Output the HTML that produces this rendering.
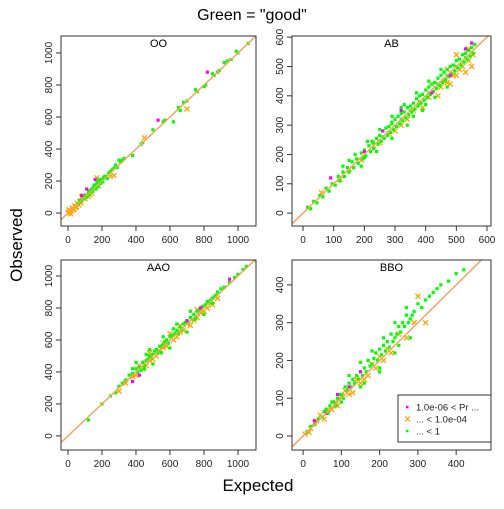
<!DOCTYPE html>
<html><head><meta charset="utf-8"><style>
body{margin:0;background:#fff;font-family:"Liberation Sans",sans-serif}
svg text{font-family:"Liberation Sans",sans-serif}
</style></head><body>
<svg id="c" width="504" height="504" xmlns="http://www.w3.org/2000/svg">
<text x="252" y="20" font-size="16" text-anchor="middle">Green = "good"</text>
<text x="258" y="491" font-size="17" text-anchor="middle">Expected</text>
<text x="22" y="245" font-size="17" text-anchor="middle" transform="rotate(-90 22 245)">Observed</text>
</svg>
<script>
const panelNames=["OO","AB","AAO","BBO"];
const xTicks=[[0,200,400,600,800,1000],[0,100,200,300,400,500,600],[0,200,400,600,800,1000],[0,100,200,300,400]];
const yTicks=[[0,200,400,600,800,1000],[0,100,200,300,400,500,600],[0,200,400,600,800,1000],[0,100,200,300,400]];
const ooGreen=[[60,60],[70,80],[80,75],[90,90],[100,110],[110,100],[120,130],[125,115],[130,140],[140,150],[145,135],[150,160],[155,175],[160,170],[165,150],[170,190],[175,165],[180,200],[185,210],[190,185],[195,200],[200,210],[205,195],[210,225],[220,230],[230,215],[240,250],[250,260],[260,270],[270,280],[280,300],[290,285],[300,330],[310,320],[320,330],[330,340],[380,360],[430,430],[440,440],[500,520],[560,570],[570,580],[620,570],[650,660],[660,640],[680,690],[700,700],[750,770],[760,760],[800,790],[810,800],[850,870],[860,860],[880,880],[890,890],[920,940],[940,950],[960,960],[990,1010],[1000,1000],[1060,1060]];
const ooOrange=[[0,0],[5,5],[8,20],[10,15],[15,-5],[20,10],[25,30],[30,20],[35,25],[40,45],[45,35],[50,40],[55,60],[60,55],[65,50],[70,75],[75,65],[80,100],[90,95],[100,90],[110,110],[120,105],[130,115],[140,125],[170,220],[180,170],[250,230],[270,235],[450,470],[700,650]];
const ooMagenta=[[110,150],[160,210],[530,580],[820,880],[80,110]];
const abGreen=[[15,20],[25,15],[35,40],[45,35],[55,60],[65,55],[75,85],[85,75],[95,100],[105,95],[115,125],[120,110],[130,140],[135,125],[145,155],[150,140],[160,175],[165,155],[175,185],[180,170],[190,205],[195,185],[200,215],[205,195],[215,230],[220,210],[225,245],[230,220],[240,255],[245,235],[250,265],[255,245],[260,280],[265,255],[270,290],[275,265],[280,295],[285,275],[290,305],[295,285],[300,320],[305,295],[310,330],[315,305],[320,340],[325,315],[330,345],[335,325],[340,360],[345,335],[350,365],[355,345],[360,375],[365,355],[370,390],[375,365],[380,400],[385,375],[390,405],[395,385],[400,420],[405,395],[410,430],[415,405],[420,440],[425,415],[430,445],[435,425],[440,460],[445,435],[450,470],[455,445],[460,480],[465,455],[470,490],[475,465],[480,500],[485,475],[490,505],[495,485],[500,520],[505,495],[510,525],[515,505],[520,540],[525,515],[530,545],[535,525],[540,555],[545,535],[550,565],[555,545],[560,575],[200,190],[230,240],[260,260],[290,310],[320,320],[350,350],[380,380],[410,410],[440,440],[470,470],[500,500],[530,530],
[170,200],[210,245],[250,285],[290,330],[330,370],[370,410],[410,450],[450,490],[190,160],[240,210],[290,255],[340,300],[390,350],[430,395],[470,430],[150,180],[130,160],[320,360],[360,330],[400,370]];
const abOrange=[[60,70],[120,115],[150,150],[190,180],[230,230],[250,240],[280,270],[300,280],[320,300],[340,320],[360,350],[380,370],[390,360],[410,395],[420,440],[440,400],[450,430],[460,450],[470,445],[480,440],[490,470],[500,470],[510,490],[520,500],[530,480],[540,520],[550,500],[555,540],[500,540],[470,490],[540,560]];
const abMagenta=[[90,120],[200,210],[320,350],[420,410],[480,470],[530,560],[550,580],[260,280]];
const aaoGreen=[[120,100],[200,200],[250,250],[280,270],[300,310],[320,330],[340,350],[360,380],[380,390],[400,420],[410,400],[420,430],[430,410],[440,460],[450,440],[460,470],[470,480],[480,500],[490,490],[500,510],[510,530],[520,540],[530,520],[540,560],[550,560],[560,570],[570,590],[580,600],[590,580],[600,620],[610,630],[620,630],[630,640],[640,660],[650,650],[660,680],[670,670],[680,700],[690,710],[700,720],[710,710],[720,740],[730,730],[740,760],[750,750],[760,780],[770,780],[780,790],[790,810],[800,810],[810,820],[820,840],[830,830],[840,850],[850,860],[860,870],[870,880],[880,900],[900,920],[920,930],[950,960],[980,990],[1000,1010],[1030,1040],[1050,1060],[1100,1100],[450,420],[550,520],[650,640],[750,730],[850,830],
[400,460],[480,540],[560,620],[640,700],[720,780],[500,450],[600,550],[700,650],[800,760],[380,420],[460,510],[620,670]];
const aaoOrange=[[300,280],[340,330],[380,370],[400,380],[420,440],[440,420],[460,440],[480,470],[500,480],[520,500],[540,530],[560,550],[580,560],[600,640],[620,600],[640,620],[660,650],[680,660],[700,700],[720,690],[740,720],[760,740],[780,770],[800,780],[820,800],[850,820],[880,860],[480,520],[560,580],[660,690],[760,790]];
const aaoMagenta=[[380,340],[420,380],[700,720],[780,800],[950,980]];
const bboGreen=[[10,10],[20,25],[30,30],[40,45],[50,50],[55,65],[60,70],[65,60],[70,80],[75,90],[80,90],[85,80],[90,100],[95,110],[100,110],[105,100],[110,130],[115,120],[120,140],[125,130],[130,150],[135,140],[140,160],[145,150],[150,170],[155,160],[160,180],[165,170],[170,200],[175,185],[180,190],[185,205],[190,220],[195,200],[200,230],[205,215],[210,240],[215,225],[220,250],[225,235],[230,270],[235,250],[240,260],[245,270],[250,290],[255,275],[260,300],[265,290],[270,320],[275,300],[280,310],[285,320],[290,330],[300,350],[310,340],[320,360],[330,370],[340,380],[350,390],[360,400],[380,410],[400,430],[420,440],[460,470],[100,90],[150,130],[200,180],[250,240],
[120,160],[150,195],[180,225],[210,260],[240,300],[270,340],[160,140],[200,170],[240,220],[280,260]];
const bboOrange=[[5,5],[15,10],[20,20],[30,35],[35,40],[45,55],[55,45],[65,70],[75,70],[85,90],[90,80],[100,105],[110,120],[120,110],[130,115],[140,150],[150,140],[160,150],[170,160],[180,190],[190,180],[200,210],[210,200],[220,230],[230,220],[250,270],[270,260],[290,300],[300,370],[320,300]];
const bboMagenta=[[30,40],[60,60],[90,110],[120,130],[150,170]];
const green=[ooGreen,abGreen,aaoGreen,bboGreen],orange=[ooOrange,abOrange,aaoOrange,bboOrange],magenta=[ooMagenta,abMagenta,aaoMagenta,bboMagenta];
const legendLabels=["1.0e-06 < Pr ...","... < 1.0e-04","... < 1"];
const NS="http://www.w3.org/2000/svg",svg=document.getElementById("c");
function mk(t,a,p){const e=document.createElementNS(NS,t);for(const k in a)e.setAttribute(k,a[k]);(p||svg).appendChild(e);return e;}
const boxes=[{l:61,r:256,t:36,b:226},{l:292,r:491,t:36,b:226},{l:61,r:256,t:260,b:450},{l:292,r:491,t:260,b:450}];
const dom=[{x0:-41,x1:1106,y0:-81,y1:1106},{x0:-36,x1:613,y0:-44,y1:604},{x0:-41,x1:1106,y0:-88,y1:1100},{x0:-29,x1:491,y0:-37,y1:466}];
boxes.forEach((B,i)=>{
 const D=dom[i];
 const sx=v=>B.l+(v-D.x0)/(D.x1-D.x0)*(B.r-B.l);
 const sy=v=>B.b-(v-D.y0)/(D.y1-D.y0)*(B.b-B.t);
 const g=mk("g",{});
 
 
 const cp=mk("clipPath",{id:"cp"+i},g);mk("rect",{x:B.l,y:B.t,width:B.r-B.l,height:B.b-B.t},cp);
 const pl=mk("g",{"clip-path":"url(#cp"+i+")"},g);
 const draw=(arr,col,kind)=>arr.forEach(p=>{
  const x=sx(p[0]),y=sy(p[1]);let e;
  if(kind==="x"){e=mk("path",{d:`M${x-2.5},${y-2.5}L${x+2.5},${y+2.5}M${x-2.5},${y+2.5}L${x+2.5},${y-2.5}`,stroke:col,"stroke-width":1.3},pl);}
  else e=mk("rect",{x:x-1.6,y:y-1.6,width:3.2,height:3.2,fill:col},pl);
  
  
 });
 draw(orange[i],"#ffa500","x");draw(green[i],"#00ff00","s");draw(magenta[i],"#ff00ff","s");
 const ln=mk("line",{x1:sx(-100),y1:sy(-100),x2:sx(1200),y2:sy(1200),stroke:"#f4a460","stroke-width":1.5},pl);
 
 
 const bx=mk("rect",{x:B.l,y:B.t,width:B.r-B.l,height:B.b-B.t,fill:"none",stroke:"#333"},g);
 
 
 const tt=mk("text",{x:(B.l+B.r)/2,y:B.t+11,"font-size":11,"text-anchor":"middle"},g);tt.textContent=panelNames[i];
 
 
 xTicks[i].forEach(v=>{const x=sx(v);mk("line",{x1:x,y1:B.b,x2:x,y2:B.b+5,stroke:"#333"},g);
  const t=mk("text",{x:x,y:B.b+17,"font-size":10,"text-anchor":"middle",fill:"#222"},g);t.textContent=v;
  
  });
 yTicks[i].forEach(v=>{const y=sy(v);mk("line",{x1:B.l-5,y1:y,x2:B.l,y2:y,stroke:"#333"},g);
  const t=mk("text",{x:B.l-9,y:y,"font-size":10,"text-anchor":"middle",fill:"#222",transform:`rotate(-90 ${B.l-9} ${y})`},g);t.textContent=v;
  
  });
});
const lg=mk("g",{});


mk("rect",{x:398,y:395,width:93,height:47,fill:"#fff",stroke:"#333"},lg);
const lc=["#ff00ff","#ffa500","#00ff00"];
legendLabels.forEach((s,k)=>{const y=407+k*12;
 if(k===1)mk("path",{d:`M405,${y-2.5}L410,${y+2.5}M405,${y+2.5}L410,${y-2.5}`,stroke:lc[k],"stroke-width":1.2},lg);
 else mk("rect",{x:406,y:y-1.2,width:2.5,height:2.5,fill:lc[k]},lg);
 const t=mk("text",{x:416,y:y+3.5,"font-size":9.5,fill:"#222"},lg);t.textContent=s;
 
 });
</script>
</body></html>
